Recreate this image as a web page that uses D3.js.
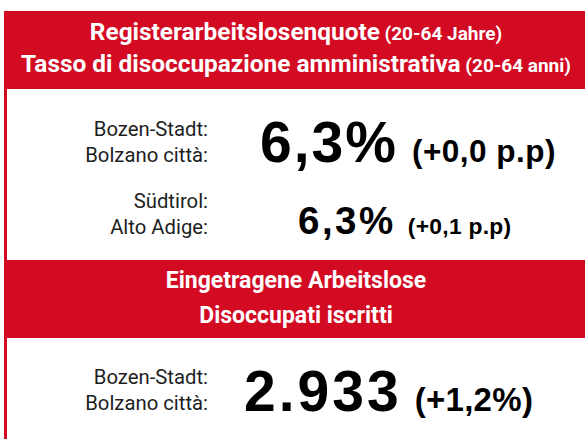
<!DOCTYPE html>
<html><head><meta charset="utf-8">
<script src="https://cdn.jsdelivr.net/npm/d3@7"></script>
<style>html,body{margin:0;padding:0;background:#fff;}svg{display:block;}</style>
</head><body>
<svg id="c" width="585" height="439"></svg>
<script>
// ---- data ----
const headerMain = [["Registerarbeitslosenquote", "Tasso di disoccupazione amministrativa"], ["Eingetragene Arbeitslose", "Disoccupati iscritti"]];
const headerSub = [[" (20-64 Jahre)", " (20-64 anni)"], ["", ""]];
const rowLabelsDe = ["Bozen-Stadt:", "Südtirol:", "Bozen-Stadt:"];
const rowLabelsIt = ["Bolzano città:", "Alto Adige:", "Bolzano città:"];
const rowValues = ["6,3%", "6,3%", "2.933"];
const rowChanges = ["(+0,0 p.p)", "(+0,1 p.p)", "(+1,2%)"];

const RED = "#d20a22";
const svg = d3.select("#c");

// header bands
const bands = [
  {y0: 11, y1: 89, lines: [40, 72], fs: 24.4, sub: 19},
  {y0: 260, y1: 338, lines: [288, 323], fs: 23, sub: 18}
];
svg.append("rect").attr("x", 4).attr("y", 11).attr("width", 3).attr("height", 428).attr("fill", RED);
bands.forEach((b, i) => {
  svg.append("rect").attr("x", 4).attr("y", b.y0).attr("width", 581).attr("height", b.y1 - b.y0).attr("fill", RED);
  headerMain[i].forEach((t, j) => {
    const tx = svg.append("text").attr("x", 296).attr("y", b.lines[j]).attr("text-anchor", "middle")
      .attr("fill", "#fff").attr("font-family", "Roboto, 'Liberation Sans', sans-serif").attr("font-weight", "bold")
      .attr("font-size", b.fs);
    tx.append("tspan").text(t);
    if (headerSub[i][j]) tx.append("tspan").attr("font-size", b.sub).text(headerSub[i][j]);
  });
});

// rows
const rows = [
  {yDe: 136, yIt: 162, big: 57, bls: 2, small: 31.5, sls: 0.5, gap: 14, xv: 260, base: 162},
  {yDe: 208, yIt: 234, big: 38.5, bls: 2.5, small: 22.8, sls: 0.3, gap: 12, xv: 298, base: 234},
  {yDe: 384, yIt: 410, big: 57, bls: 3, small: 33, sls: 0.3, gap: 13, xv: 244, base: 411}
];
rows.forEach((r, i) => {
  const lab = svg.append("g").attr("font-family", "Roboto, 'Liberation Sans', sans-serif").attr("font-size", 20.3).attr("fill", "#1e1e1e").attr("text-anchor", "end");
  lab.append("text").attr("x", 208).attr("y", r.yDe).text(rowLabelsDe[i]);
  lab.append("text").attr("x", 208).attr("y", r.yIt).text(rowLabelsIt[i]);
  const t = svg.append("text").attr("x", r.xv).attr("y", r.base).attr("font-family", "'Liberation Sans', Arial, sans-serif").attr("font-weight", "bold").attr("fill", "#000");
  t.append("tspan").attr("font-size", r.big).attr("letter-spacing", r.bls).text(rowValues[i]);
  t.append("tspan").attr("font-size", r.small).attr("letter-spacing", r.sls).attr("dx", r.gap).text(rowChanges[i]);
});
</script>
</body></html>
